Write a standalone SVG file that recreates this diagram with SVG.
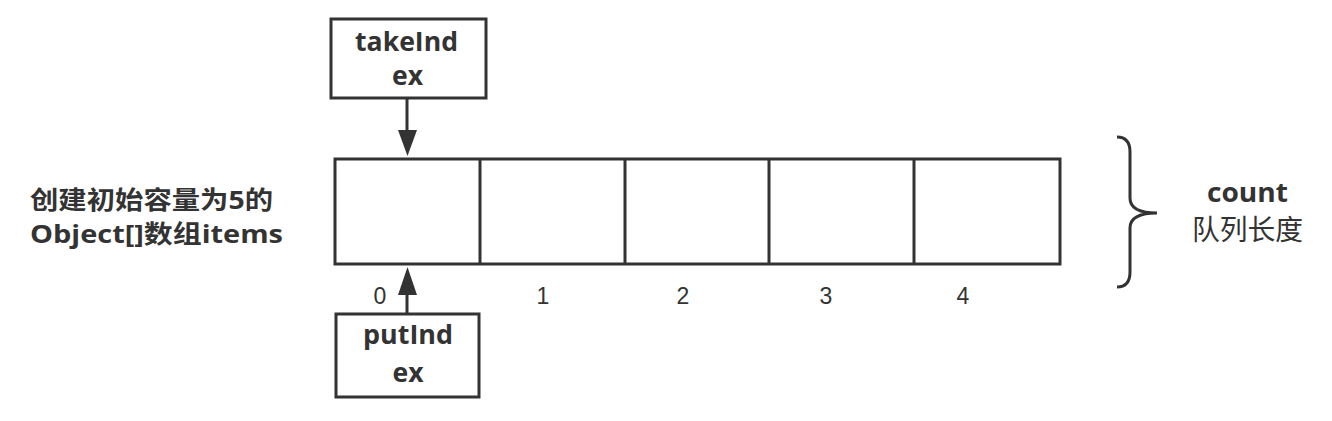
<svg xmlns="http://www.w3.org/2000/svg" width="1332" height="421" viewBox="0 0 1332 421">
<defs>
<style>
.box{fill:#fff;stroke:#333;stroke-width:3}
.lbl{font-family:"Open Sans","Noto Sans CJK SC",sans-serif;font-weight:bold;font-size:27px;fill:#333;text-anchor:middle}
.idx{font-family:"Liberation Sans","Noto Sans",sans-serif;font-size:23px;fill:#333;text-anchor:middle}
.edge{stroke:#333;stroke-width:3;fill:none}
</style>
</defs>
<rect width="1332" height="421" fill="#fff"/>
<g id="array">
<rect class="box" x="335" y="159" width="725" height="105"/>
<line class="edge" x1="480" y1="159" x2="480" y2="264"/>
<line class="edge" x1="625" y1="159" x2="625" y2="264"/>
<line class="edge" x1="769" y1="159" x2="769" y2="264"/>
<line class="edge" x1="914" y1="159" x2="914" y2="264"/>
</g>
<g id="indices">
<text class="idx" x="380" y="304">0</text>
<text class="idx" x="543" y="304">1</text>
<text class="idx" x="683" y="304">2</text>
<text class="idx" x="826" y="304">3</text>
<text class="idx" x="963" y="304">4</text>
</g>
<g id="array-label">
<text class="lbl" x="151.5" y="209" style="font-size:25px" textLength="243" lengthAdjust="spacingAndGlyphs">创建初始容量为5的</text>
<text class="lbl" x="156.5" y="243" style="font-size:25px" textLength="253" lengthAdjust="spacingAndGlyphs">Object[]数组items</text>
</g>
<g id="takeIndex">
<rect class="box" x="331" y="19" width="155" height="79"/>
<text class="lbl" x="406.5" y="51" textLength="103" lengthAdjust="spacingAndGlyphs">takeInd</text>
<text class="lbl" x="407.5" y="85" textLength="31" lengthAdjust="spacingAndGlyphs">ex</text>
</g>
<g id="putIndex">
<rect class="box" x="336" y="314" width="143" height="83"/>
<text class="lbl" x="408" y="344" textLength="90" lengthAdjust="spacingAndGlyphs">putInd</text>
<text class="lbl" x="408" y="382" textLength="31" lengthAdjust="spacingAndGlyphs">ex</text>
</g>
<g id="count">
<path class="edge" stroke-width="2.5" d="M1117,137 Q1130,137 1130,152 L1130,198 Q1130,213 1157,213 Q1130,213 1130,228 L1130,272 Q1130,287 1117,287"/>
<text class="lbl" x="1247.5" y="202" textLength="81" lengthAdjust="spacingAndGlyphs">count</text>
<text class="lbl" x="1247.5" y="240" style="font-size:28px;font-weight:normal" textLength="111" lengthAdjust="spacingAndGlyphs">队列长度</text>
</g>
<g id="connectors">
<path class="edge" d="M407,98 L407,130"/>
<path d="M398,130 L417,130 L407.5,156 Z" fill="#333"/>
<path class="edge" d="M407,314 L407,294"/>
<path d="M398,295 L417,295 L407.5,267 Z" fill="#333"/>
</g>
</svg>
